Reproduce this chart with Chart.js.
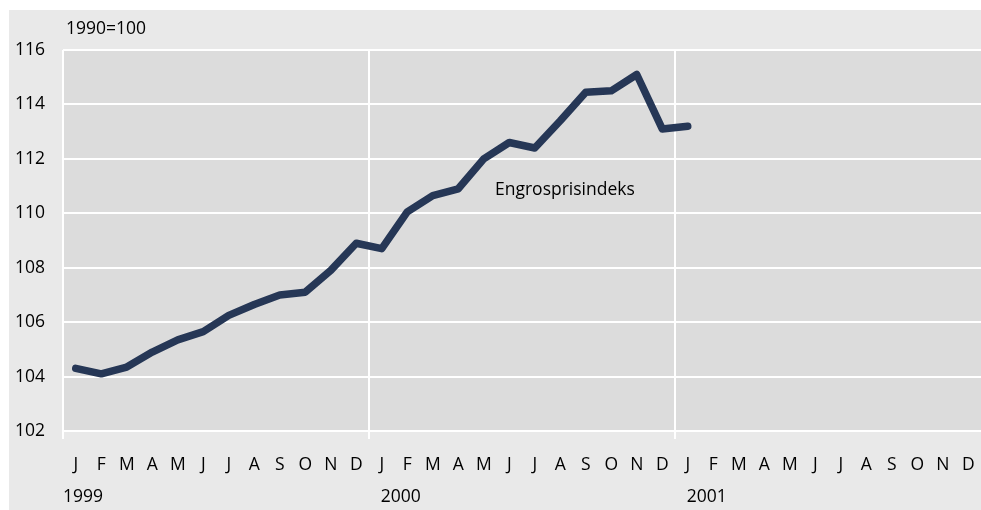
<!DOCTYPE html>
<html>
<head>
<meta charset="utf-8">
<script src="https://cdn.jsdelivr.net/npm/chart.js@4/dist/chart.umd.min.js"></script>
<style>
  html, body { margin: 0; padding: 0; background: #fff; overflow: hidden; }
</style>
</head>
<body>
<canvas id="myChart" width="981" height="510"></canvas>
<script>
// months across three years, Jan 1999 - Dec 2001
const months = ["J","F","M","A","M","J","J","A","S","O","N","D",
                "J","F","M","A","M","J","J","A","S","O","N","D",
                "J","F","M","A","M","J","J","A","S","O","N","D"];
const years = ["1999", "2000", "2001"];
const seriesName = "Engrosprisindeks";
const unitLabel = "1990=100";
const values = [104.3, 104.1, 104.35, 104.9, 105.35, 105.65, 106.25, 106.65, 107.0, 107.1, 107.9, 108.9,
                108.7, 110.05, 110.65, 110.9, 112.0, 112.6, 112.4, 113.4, 114.45, 114.5, 115.1, 113.1,
                113.2, null, null, null, null, null, null, null, null, null, null, null];

const font = "'Open Sans', 'Noto Sans', sans-serif";

// backgrounds + extra texts
const decor = {
    id: "decor",
    beforeDraw(chart) {
        let c = chart.ctx, a = chart.chartArea;
        c.save();
        c.fillStyle = "#e9e9e9";
        c.fillRect(9, 10, chart.width - 9, chart.height - 10);
        c.fillStyle = "#dcdcdc";
        c.fillRect(a.left, a.top, a.right - a.left, a.bottom - a.top);
        c.restore();
    },
    afterDraw(chart) {
        let c = chart.ctx, a = chart.chartArea, x = chart.scales.x;
        c.save();
        c.fillStyle = "#000";
        c.font = "17.5px " + font;
        c.textAlign = "left";
        c.textBaseline = "middle";
        c.fillText(unitLabel, 66, 29);
        c.fillText(seriesName, 495, 190);
        years.forEach((y, i) => {
            let px = i === 0 ? a.left : x.getPixelForValue(i * 12) - 1;
            c.fillText(y, px, 497);
        });
        c.restore();
    }
};

let ctx = document.getElementById("myChart");
let chart = new Chart(ctx.getContext("2d"), {
    type: "line",
    data: {
        labels: months,
        datasets: [{
            label: seriesName,
            data: values,
            borderColor: "#263756",
            borderWidth: 7.5,
            borderCapStyle: "round",
            borderJoinStyle: "round",
            pointRadius: 0,
            tension: 0,
            spanGaps: false
        }]
    },
    options: {
        responsive: false,
        animation: false,
        layout: { padding: { top: 50, left: 0, right: 0, bottom: 0 } },
        plugins: { legend: { display: false }, tooltip: { enabled: false } },
        scales: {
            x: {
                offset: true,
                grid: {
                    offset: true,
                    lineWidth: 2,
                    tickLength: 8,
                    color: (c) => (c.index % 12 === 0 && c.index < 36) ? "#ffffff" : "rgba(0,0,0,0)"
                },
                border: { display: false },
                ticks: {
                    autoSkip: false,
                    maxRotation: 0,
                    color: "#000",
                    padding: 16,
                    font: { family: font, size: 17.5 }
                },
                afterFit: (s) => { s.height = 79; s.paddingLeft = 0; s.paddingRight = 0; }
            },
            y: {
                min: 102,
                max: 116,
                ticks: {
                    stepSize: 2,
                    color: "#000",
                    padding: 18,
                    font: { family: font, size: 17.5 }
                },
                grid: { color: "#ffffff", lineWidth: 2, drawTicks: false },
                border: { display: false },
                afterFit: (s) => { s.width = 63; }
            }
        }
    },
    plugins: [decor]
});
</script>
</body>
</html>
